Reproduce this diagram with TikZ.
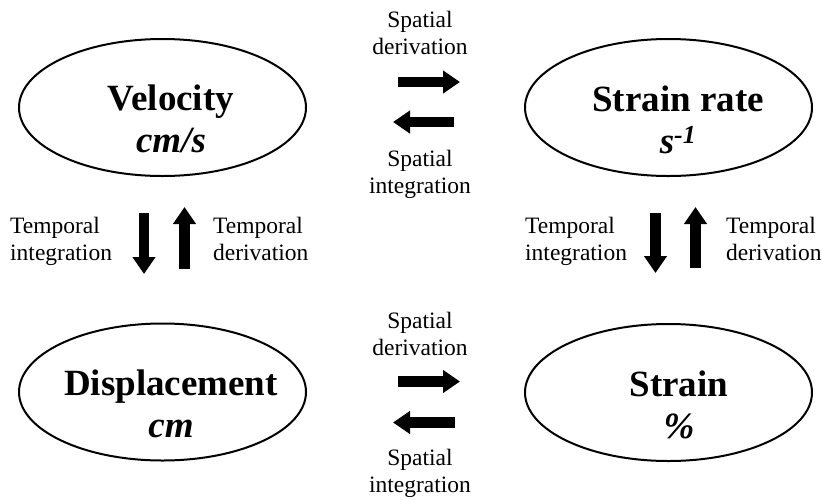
\documentclass[tikz,border=0pt]{standalone}
\usepackage{fontspec}
\setmainfont{Liberation Serif}
\usetikzlibrary{arrows.meta,shapes.geometric}
\begin{document}
\begin{tikzpicture}[x=1pt,y=-1pt,
  state/.style={draw, ellipse, line width=2pt, minimum width=287pt, minimum height=137pt, inner sep=0pt},
  title/.style={font=\fontsize{37}{41.5}\selectfont\bfseries, align=center, anchor=base, inner sep=0pt},
  lbl/.style={font=\fontsize{23.5}{26.5}\selectfont, inner sep=0pt, anchor=base},
  barrow/.style={line width=10.5pt, -{Triangle[length=17pt 0 0,width=22pt 0 0]}}
]
\useasboundingbox (0,0) rectangle (822,499);

% ellipses
\node[state] (vel) at (162.5,107.5) {};
\node[state] (sr) at (668.5,107.5) {};
\node[state] (disp) at (162.5,392) {};
\node[state] (str) at (668.5,392.5) {};

% ellipse texts (anchor base = baseline of the last line)
\node[title] (veltxt) at (171,152) {Velocity\\\textit{cm/s}};
\node[title] (srtxt) at (678,153) {Strain rate\\\textit{s\textsuperscript{-1}}};
\node[title] (disptxt) at (171,437) {Displacement\\\textit{cm}};
\node[title] (strtxt) at (679,438) {Strain\\\textit{\%}};

% spatial labels
\node[lbl, align=center] (sdtop) at (420,54) {Spatial\\derivation};
\node[lbl, align=center] (sitop) at (420,193) {Spatial\\integration};
\node[lbl, align=center] (sdbot) at (420,355) {Spatial\\derivation};
\node[lbl, align=center] (sibot) at (420,492) {Spatial\\integration};

% temporal labels
\node[lbl, anchor=base west, align=left] (tileft) at (10,260) {Temporal\\integration};
\node[lbl, anchor=base west, align=left] (tdleft) at (213,260) {Temporal\\derivation};
\node[lbl, anchor=base west, align=left] (tiright) at (525,260) {Temporal\\integration};
\node[lbl, anchor=base west, align=left] (tdright) at (726,260) {Temporal\\derivation};

% arrow end points
\coordinate (a1s) at (398,82);   \coordinate (a1e) at (460,82);
\coordinate (a2s) at (454,122);  \coordinate (a2e) at (393,122);
\coordinate (a3s) at (398,381.5);\coordinate (a3e) at (460,381.5);
\coordinate (a4s) at (455,422.5);\coordinate (a4e) at (393,422.5);
\coordinate (a5s) at (144,213);  \coordinate (a5e) at (144,274);
\coordinate (a6s) at (184.5,269);\coordinate (a6e) at (184.5,207);
\coordinate (a7s) at (655.5,213);\coordinate (a7e) at (655.5,273);
\coordinate (a8s) at (695.5,268);\coordinate (a8e) at (695.5,207);

\draw[barrow] (a1s) -- (a1e);
\draw[barrow] (a2s) -- (a2e);
\draw[barrow] (a3s) -- (a3e);
\draw[barrow] (a4s) -- (a4e);
\draw[barrow] (a5s) -- (a5e);
\draw[barrow] (a6s) -- (a6e);
\draw[barrow] (a7s) -- (a7e);
\draw[barrow] (a8s) -- (a8e);
\end{tikzpicture}
\end{document}
